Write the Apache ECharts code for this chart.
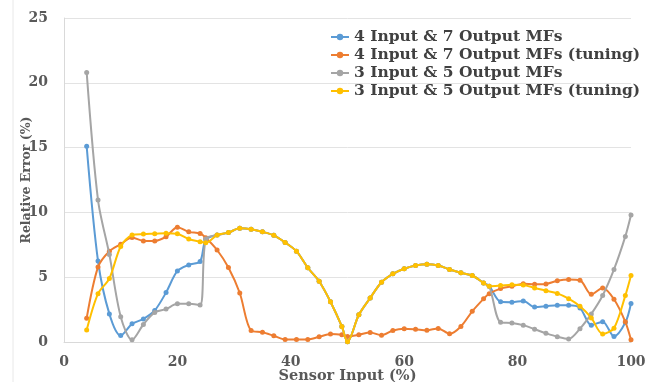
<!doctype html>
<html>

<head>
    <meta charset="utf-8">
    <title>Relative Error</title>
    <script type="text/javascript" src="https://cdn.jsdelivr.net/npm/echarts@6/dist/echarts.min.js"></script>
</head>

<body style="margin:0;padding:0">
    <div id="tb" style="width:645px;height:382px"></div>
    <script>
        // sensor input (%) values where the points were taken
        var xData = [4, 6, 8, 10, 12, 14, 16, 18, 20, 22, 24,
            25, 27, 29, 31, 33, 35, 37, 39, 41, 43, 45, 47, 49,
            50, 52, 54, 56, 58, 60, 62, 64, 66, 68, 70, 72, 74,
            75, 77, 79, 81, 83, 85, 87, 89, 91, 93, 95, 97, 99, 100];

        // 4 Input & 7 Output MFs
        var data47 = [15.1, 6.25, 2.17, 0.5, 1.4, 1.78, 2.43, 3.82, 5.48, 5.95, 6.22,
            7.9, 8.25, 8.44, 8.77, 8.7, 8.5, 8.23, 7.68, 7.01, 5.73, 4.69, 3.11, 1.2,
            0.02, 2.1, 3.4, 4.61, 5.26, 5.65, 5.9, 6.0, 5.9, 5.6, 5.34, 5.13, 4.56,
            4.3, 3.1, 3.07, 3.17, 2.7, 2.76, 2.83, 2.83, 2.63, 1.3, 1.57, 0.43, 1.5, 2.97];
        // 4 Input & 7 Output MFs (tuning)
        var data47t = [1.84, 5.78, 7.0, 7.54, 8.06, 7.8, 7.8, 8.13, 8.86, 8.5, 8.37,
            8.05, 7.1, 5.75, 3.78, 0.88, 0.76, 0.48, 0.2, 0.2, 0.2, 0.4, 0.62, 0.56,
            0.43, 0.56, 0.74, 0.52, 0.89, 1.03, 0.98, 0.9, 1.05, 0.63, 1.2, 2.37, 3.33,
            3.73, 4.12, 4.3, 4.5, 4.45, 4.48, 4.72, 4.82, 4.76, 3.68, 4.17, 3.3, 1.56, 0.17];
        // 3 Input & 5 Output MFs
        var data35 = [20.8, 10.95, 6.75, 1.95, 0.17, 1.35, 2.28, 2.54, 2.95, 2.95, 2.85,
            7.95, 8.25, 8.44, 8.77, 8.7, 8.5, 8.23, 7.68, 7.01, 5.73, 4.69, 3.11, 1.2,
            0.02, 2.1, 3.4, 4.61, 5.26, 5.65, 5.9, 6.0, 5.9, 5.6, 5.34, 5.13, 4.56,
            4.3, 1.52, 1.47, 1.3, 0.99, 0.68, 0.41, 0.24, 1.03, 2.17, 3.59, 5.6, 8.15, 9.8];
        // 3 Input & 5 Output MFs (tuning)
        var data35t = [0.92, 3.73, 4.9, 7.37, 8.25, 8.33, 8.36, 8.4, 8.35, 7.94, 7.74,
            7.65, 8.25, 8.44, 8.77, 8.7, 8.5, 8.23, 7.68, 7.01, 5.73, 4.69, 3.11, 1.2,
            0.02, 2.1, 3.4, 4.61, 5.26, 5.65, 5.9, 6.0, 5.9, 5.6, 5.34, 5.13, 4.56,
            4.3, 4.35, 4.42, 4.4, 4.17, 3.96, 3.75, 3.34, 2.75, 1.86, 0.62, 1.07, 3.58, 5.13];

        var names = ['4 Input & 7 Output MFs', '4 Input & 7 Output MFs (tuning)',
            '3 Input & 5 Output MFs', '3 Input & 5 Output MFs (tuning)'];
        var colors = ['#5B9BD5', '#ED7D31', '#A5A5A5', '#FFC000'];
        var yTicks = [0, 5, 10, 15, 20, 25];
        var xTicks = [0, 20, 40, 60, 80, 100];

        var font = 'DejaVu Serif';
        var txt = '#595959';

        // pair x with y for a value axis
        function pairs(ys) {
            return xData.map(function (x, i) { return [x, ys[i]]; });
        }

        var chart = echarts.init(document.getElementById('tb'));
        var allData = [data47, data47t, data35, data35t];

        chart.setOption({
            animation: false,
            color: colors,
            grid: {
                left: 64,
                right: 14,
                top: 18,
                bottom: 40,
                outerBoundsMode: 'none',
            },
            legend: {
                orient: 'vertical',
                left: 325,
                top: 24,
                itemWidth: 18,
                itemHeight: 8,
                itemGap: 2,
                textStyle: {
                    fontFamily: font,
                    fontWeight: 'bold',
                    fontSize: 15.5,
                    lineHeight: 16,
                    color: '#404040',
                },
                data: names,
            },
            xAxis: {
                type: 'value',
                min: xTicks[0],
                max: xTicks[xTicks.length - 1],
                interval: 20,
                name: 'Sensor Input (%)',
                nameLocation: 'middle',
                nameGap: 27,
                nameMoveOverlap: false,
                nameTextStyle: {
                    fontFamily: font,
                    fontWeight: 'bold',
                    fontSize: 14.5,
                    color: txt,
                },
                axisLine: { lineStyle: { color: '#d9d9d9' } },
                axisTick: { show: false },
                splitLine: { show: false },
                axisLabel: {
                    fontFamily: font,
                    fontWeight: 'bold',
                    fontSize: 14,
                    color: txt,
                    margin: 13,
                },
            },
            yAxis: {
                type: 'value',
                min: yTicks[0],
                max: yTicks[yTicks.length - 1],
                interval: 5,
                name: 'Relative Error (%)',
                nameLocation: 'middle',
                nameGap: 31,
                nameMoveOverlap: false,
                nameTextStyle: {
                    fontFamily: font,
                    fontWeight: 'bold',
                    fontSize: 12.5,
                    color: txt,
                },
                axisLine: { show: true, lineStyle: { color: '#d9d9d9' } },
                axisTick: { show: false },
                splitLine: { lineStyle: { color: '#e3e3e3' } },
                axisLabel: {
                    fontFamily: font,
                    fontWeight: 'bold',
                    fontSize: 14,
                    color: txt,
                    margin: 16,
                },
            },
            // faint frame line on the left edge of the picture
            graphic: [{
                type: 'line',
                shape: { x1: 13, y1: 0, x2: 13, y2: 382 },
                style: { stroke: '#e8e8e8', lineWidth: 1 },
            }],
            series: names.map(function (n, i) {
                return {
                    name: n,
                    type: 'line',
                    z: 2 + i, // later series drawn on top, as in the original
                    smooth: 0.3,
                    symbol: 'circle',
                    symbolSize: 5,
                    lineStyle: { width: 2 },
                    data: pairs(allData[i]),
                };
            }),
        });
    </script>
</body>

</html>
